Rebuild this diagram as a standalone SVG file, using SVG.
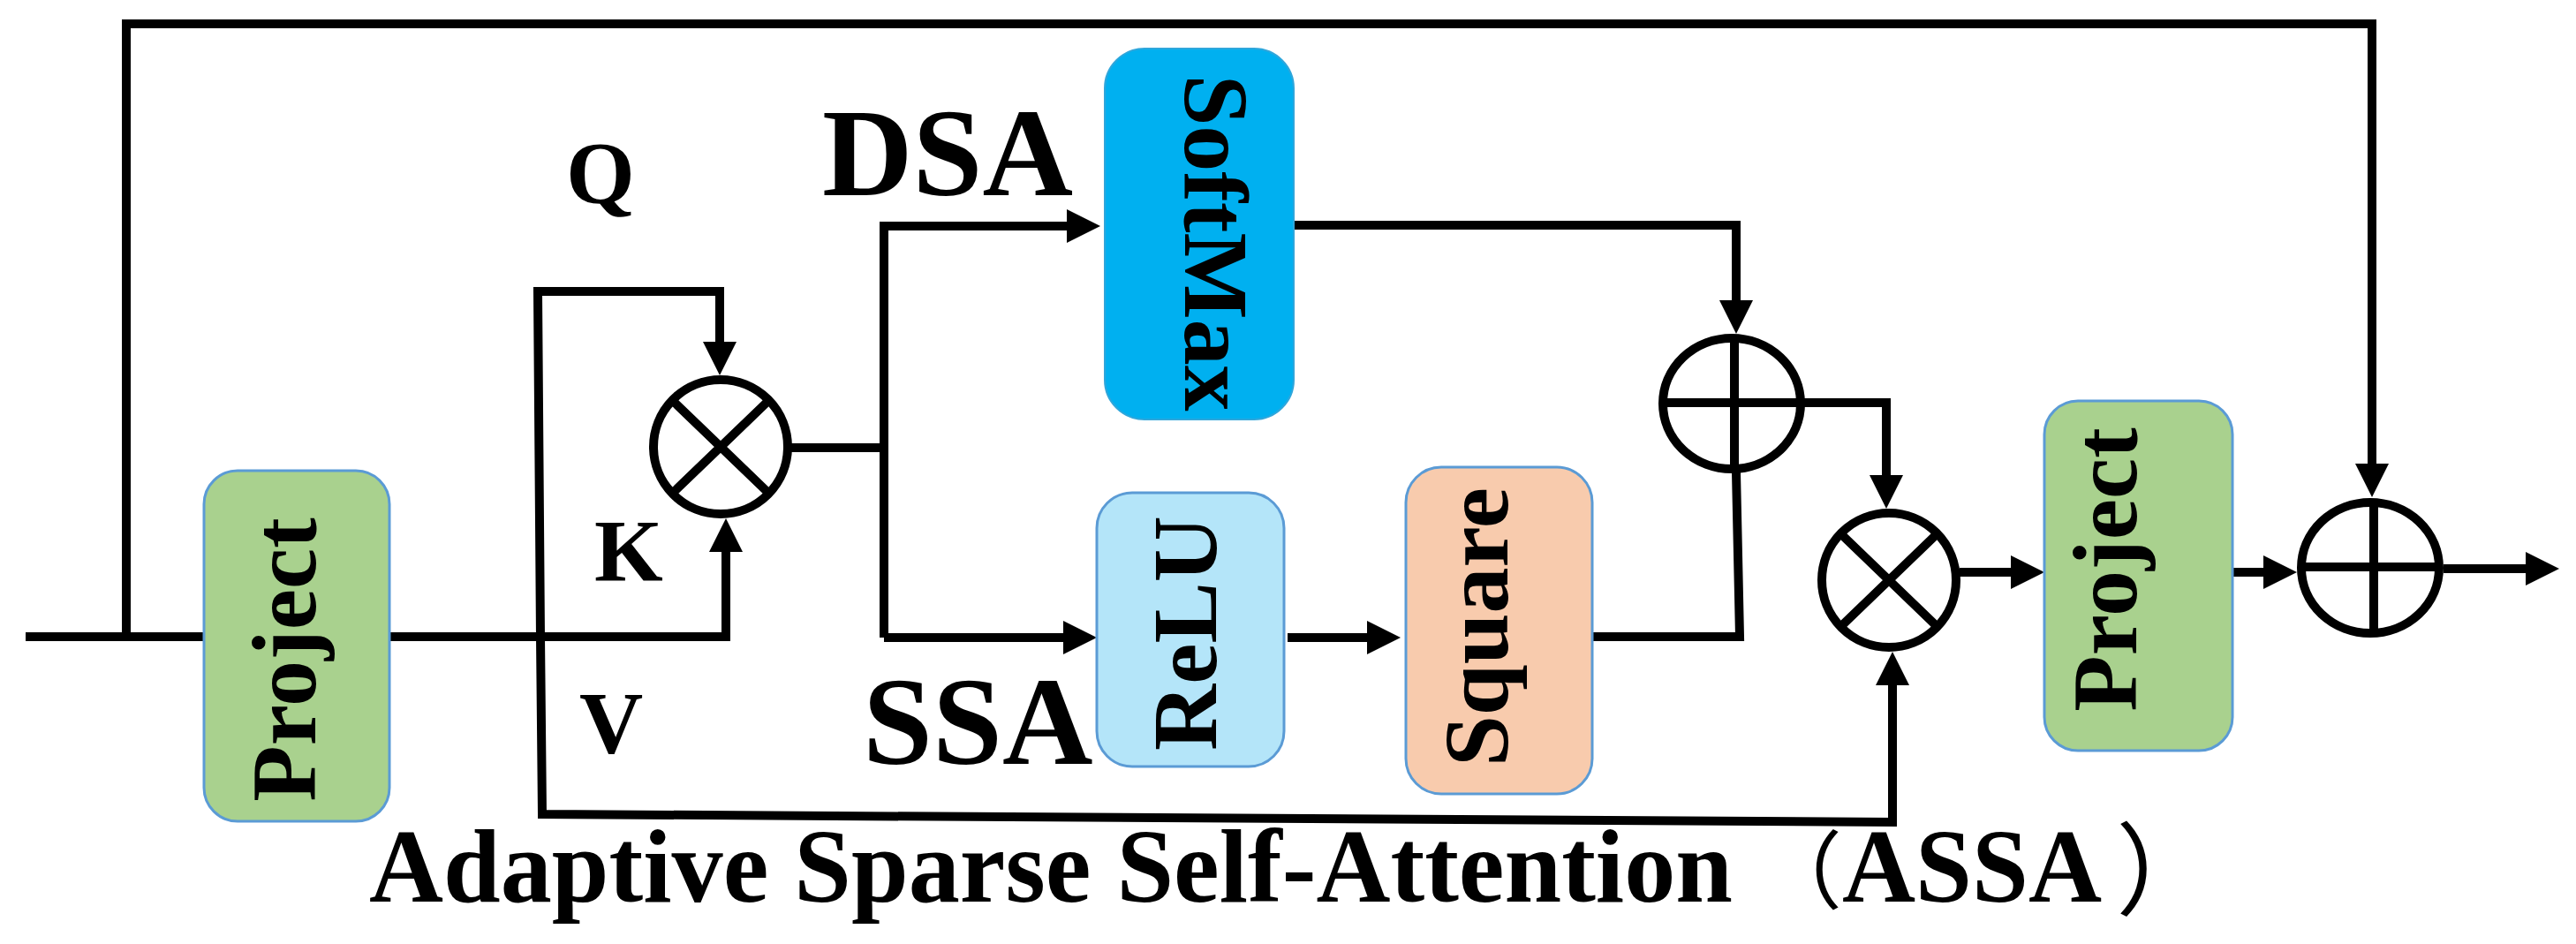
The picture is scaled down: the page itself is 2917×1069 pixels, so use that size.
<svg xmlns="http://www.w3.org/2000/svg" width="2917" height="1069" viewBox="0 0 2917 1069">
<style>
.ln{fill:none;stroke:#000;stroke-width:10;stroke-linejoin:miter}
.op{fill:none;stroke:#000;stroke-width:10}
.bx{stroke:#5B9BD5;stroke-width:3}
.t{font-family:"Liberation Serif","Times New Roman",serif;font-weight:bold;fill:#000}
.p{font-family:"Noto Sans CJK SC",sans-serif;font-weight:normal;fill:#000}
.bt{font-family:"Liberation Serif","Times New Roman",serif;font-weight:bold;font-size:104px;fill:#000;text-anchor:middle}
</style>
<defs>
<marker id="ah" viewBox="0 0 38 38" refX="8" refY="19" markerWidth="38" markerHeight="38" markerUnits="userSpaceOnUse" orient="auto">
<path d="M0,0 L38,19 L0,38 Z" fill="#000"/>
</marker>
</defs>
<rect width="2917" height="1069" fill="#fff"/>

<g id="connectors">
<path class="ln" d="M29,721 H231"/>
<path class="ln" d="M143,721 V27 H2686 V533" marker-end="url(#ah)"/>
<path class="ln" d="M441,721 H822 V617" marker-end="url(#ah)"/>
<path class="ln" d="M612,721 L609,330 H815 V395" marker-end="url(#ah)"/>
<path class="ln" d="M612,721 L614,922 L2143,931 V768" marker-end="url(#ah)"/>
<path class="ln" d="M896,507 H1001"/>
<path class="ln" d="M1001,722 V256 H1216" marker-end="url(#ah)"/>
<path class="ln" d="M1001,722 H1212" marker-end="url(#ah)"/>
<path class="ln" d="M1458,722 H1556" marker-end="url(#ah)"/>
<path class="ln" d="M1803,721 H1970 L1966,535"/>
<path class="ln" d="M1465,255 H1966 V348" marker-end="url(#ah)"/>
<path class="ln" d="M2043,456 H2136 V546" marker-end="url(#ah)"/>
<path class="ln" d="M2219,648 H2285" marker-end="url(#ah)"/>
<path class="ln" d="M2528,648 H2571" marker-end="url(#ah)"/>
<path class="ln" d="M2767,644 H2868" marker-end="url(#ah)"/>
</g>

<g id="project1">
<rect class="bx" x="231" y="533" width="210" height="397" rx="38" fill="#A9D18E"/>
<text class="bt" transform="translate(357,747) rotate(-90)">Project</text>
</g>
<g id="softmax">
<rect x="1251" y="55" width="214" height="420" rx="45" fill="#00B0F0" stroke="#2FA6DB" stroke-width="2"/>
<text class="bt" transform="translate(1342,275) rotate(90)">SoftMax</text>
</g>
<g id="relu">
<rect class="bx" x="1242" y="558" width="212" height="310" rx="40" fill="#B4E5F9"/>
<text class="bt" transform="translate(1377,717) rotate(-90)">ReLU</text>
</g>
<g id="square">
<rect class="bx" x="1592" y="529" width="211" height="370" rx="40" fill="#F8CBAD"/>
<text class="bt" transform="translate(1707,710) rotate(-90)">Square</text>
</g>
<g id="project2">
<rect class="bx" x="2315" y="454" width="213" height="396" rx="38" fill="#A9D18E"/>
<text class="bt" transform="translate(2419,645) rotate(-90)">Project</text>
</g>

<g id="mul1">
<ellipse class="op" cx="816" cy="506" rx="76" ry="76"/>
<path class="op" d="M762,454 L870,558 M870,454 L762,558"/>
</g>
<g id="add1">
<ellipse class="op" cx="1961" cy="457" rx="78" ry="74"/>
<path class="op" d="M1964,383 V531 M1883,456 H2039"/>
</g>
<g id="mul2">
<ellipse class="op" cx="2139" cy="657" rx="76" ry="76"/>
<path class="op" d="M2085,605 L2193,709 M2193,605 L2085,709"/>
</g>
<g id="add2">
<ellipse class="op" cx="2684" cy="643" rx="78" ry="74"/>
<path class="op" d="M2688,569 V717 M2606,642 H2762"/>
</g>

<g id="labels">
<text class="t" x="641" y="229" font-size="100">Q</text>
<text class="t" x="673" y="657" font-size="100">K</text>
<text class="t" x="656" y="852" font-size="100">V</text>
<text class="t" x="931" y="221" font-size="142">DSA</text>
<text class="t" x="977" y="865" font-size="142">SSA</text>
<text class="t" y="1021" font-size="118"><tspan x="418" textLength="1544" lengthAdjust="spacingAndGlyphs">Adaptive Sparse Self-Attention</tspan><tspan class="p" x="1990" font-size="96">（</tspan><tspan x="2086" textLength="294" lengthAdjust="spacingAndGlyphs">ASSA</tspan><tspan class="p" x="2396" y="1027" font-size="114">）</tspan></text>
</g>
</svg>
